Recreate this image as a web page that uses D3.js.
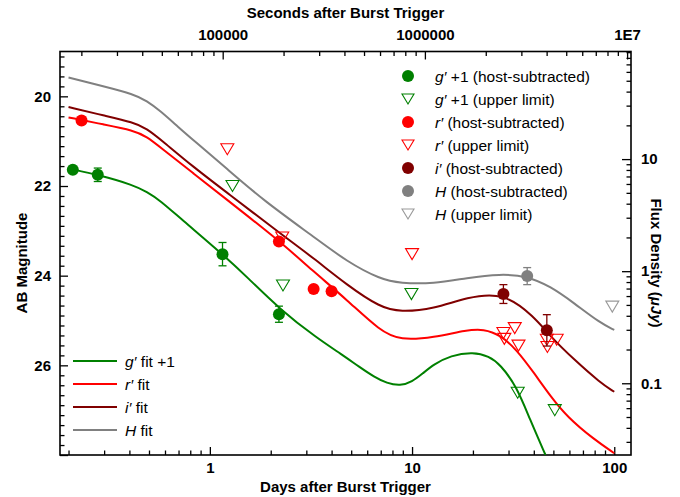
<!DOCTYPE html>
<html><head><meta charset="utf-8">
<script src="https://cdn.jsdelivr.net/npm/d3@7"></script>
<style>
body{margin:0;background:#fff}
svg{display:block}
text{font-family:"Liberation Sans",Arial,Helvetica,sans-serif}
</style>
</head><body>
<svg id="c" width="680" height="497"></svg>
<script>
// ---------------- data ----------------
// detections (days, AB mag, error)
const gDetDays = [0.21, 0.279, 1.155, 2.196];
const gDetMag  = [21.64, 21.75, 23.52, 24.86];
const gDetErr  = [0.05, 0.15, 0.26, 0.18];
const rDetDays = [0.232, 2.195, 3.26, 4.0];
const rDetMag  = [20.54, 23.24, 24.30, 24.35];
const rDetErr  = [0.05, 0.08, 0.06, 0.06];
const iDetDays = [28.3, 46.4];
const iDetMag  = [24.41, 25.22];
const iDetErr  = [0.21, 0.35];
const hDetDays = [37.1];
const hDetMag  = [24.01];
const hDetErr  = [0.19];
// upper limits
const gLimDays = [1.294, 2.30, 9.93, 33.3, 50.8];
const gLimMag  = [22.0, 24.22, 24.41, 26.61, 27.0];
const rLimDays = [1.22, 2.28, 10.0, 28.3, 28.6, 32.2, 33.6, 46.4, 46.7, 51.9];
const rLimMag  = [21.18, 23.15, 23.52, 25.28, 25.41, 25.17, 25.56, 25.43, 25.59, 25.43];
const hLimDays = [97.8];
const hLimMag  = [24.69];
// fit curves
const gFitDays = [0.2, 0.287, 0.419, 0.488, 0.567, 0.714, 1.155, 1.52, 2.23, 3.38, 4.5, 5.5, 6.5, 7.5, 8.74, 10.0, 11.3, 12.8, 15.5, 20.1, 24, 27.3, 32.9, 38.3, 45.7];
const gFitMag  = [21.61, 21.76, 21.98, 22.13, 22.32, 22.72, 23.52, 24.02, 24.76, 25.39, 25.76, 26.04, 26.26, 26.40, 26.46, 26.37, 26.18, 25.98, 25.78, 25.70, 25.80, 25.98, 26.47, 27.21, 28.0];
const rFitDays = [0.2, 0.3, 0.419, 0.488, 0.567, 0.83, 1.21, 2.23, 3.26, 4.77, 6.97, 8.74, 12.8, 18.7, 22.6, 27.3, 32.9, 40.1, 48.4, 58.5, 79.3, 100];
const rFitMag  = [20.47, 20.63, 20.76, 20.90, 21.13, 21.72, 22.30, 23.24, 23.91, 24.54, 25.24, 25.44, 25.38, 25.21, 25.19, 25.32, 25.65, 26.17, 26.69, 27.15, 27.65, 27.96];
const iFitDays = [0.2, 0.3, 0.419, 0.488, 0.567, 0.83, 1.21, 2.23, 3.26, 4.77, 6.97, 8.74, 12.8, 18.7, 28.3, 40.1, 48.4, 63.2, 85.4, 100];
const iFitMag  = [20.24, 20.43, 20.58, 20.72, 20.95, 21.58, 22.14, 23.06, 23.61, 24.21, 24.71, 24.81, 24.74, 24.48, 24.37, 24.91, 25.36, 25.87, 26.39, 26.59];
const hFitDays = [0.2, 0.3, 0.419, 0.488, 0.567, 0.7, 0.83, 1.21, 1.84, 3.26, 4.77, 6.97, 8.74, 12.8, 18.7, 27.3, 37.1, 48.4, 63.2, 85.4, 100];
const hFitMag  = [19.58, 19.78, 19.95, 20.10, 20.32, 20.69, 20.98, 21.61, 22.32, 23.13, 23.69, 24.08, 24.17, 24.18, 24.05, 23.96, 24.01, 24.24, 24.61, 25.06, 25.21];
// axes
const daysDomain = [0.1815, 121];
const magDomain = [19, 28];
const daysMajor = [1, 10, 100];
const daysMinorMult = [2, 3, 4, 5, 6, 7, 8, 9];
const secMajor = [1e5, 1e6, 1e7];
const secLabels = ["100000", "1000000", "1E7"];
const fluxMajor = [0.1, 1, 10];
const fluxLabels = ["0.1", "1", "10"];
const magMajor = [20, 22, 24, 26, 28];
const magLabels = ["20", "22", "24", "26", ""];
const legendTop = [
  {band: "g\u2032", rest: " +1 (host-subtracted)", color: "#008000", type: "circle"},
  {band: "g\u2032", rest: " +1 (upper limit)", color: "#008000", type: "tri"},
  {band: "r\u2032", rest: " (host-subtracted)", color: "#ff0000", type: "circle"},
  {band: "r\u2032", rest: " (upper limit)", color: "#ff0000", type: "tri"},
  {band: "i\u2032", rest: " (host-subtracted)", color: "#800000", type: "circle"},
  {band: "H", rest: " (host-subtracted)", color: "#808080", type: "circle"},
  {band: "H", rest: " (upper limit)", color: "#999999", type: "tri"}
];
const legendFit = [
  {band: "g\u2032", rest: " fit +1", color: "#008000"},
  {band: "r\u2032", rest: " fit", color: "#ff0000"},
  {band: "i\u2032", rest: " fit", color: "#800000"},
  {band: "H", rest: " fit", color: "#808080"}
];

// ---------------- layout ----------------
const L = 60, R = 631, T = 51.5, B = 455;
const svg = d3.select("#c");
const x = d3.scaleLog().domain(daysDomain).range([L, R]);
const xs = d3.scaleLog().domain(daysDomain.map(d => d * 86400)).range([L, R]);
const y = d3.scaleLinear().domain(magDomain).range([T, B]);
const fl = m => Math.pow(10, (23.9 - m) / 2.5);
const yf = d3.scaleLog().domain(magDomain.map(fl)).range([T, B]);

function minorsLog(domain, mult) {
  const out = [];
  for (let e = -3; e <= 9; e++) {
    const dec = Math.pow(10, e);
    mult.forEach(k => {
      const v = dec * k;
      if (v >= domain[0] && v <= domain[1]) out.push(v);
    });
  }
  return out;
}
const FONT = "15px";

svg.append("defs").append("clipPath").attr("id", "clip")
  .append("rect").attr("x", L).attr("y", T).attr("width", R - L).attr("height", B - T);

// ---------------- axes ----------------
function styleAxis(g) {
  g.select(".domain").remove();
  g.selectAll(".tick line").attr("stroke", "#000").attr("stroke-width", 1.3);
  g.selectAll("text").attr("font-size", FONT).attr("font-weight", "bold").attr("fill", "#000")
    .attr("font-family", "'Liberation Sans', Arial, sans-serif");
}
// bottom
svg.append("g").attr("transform", `translate(0,${B})`)
  .call(d3.axisBottom(x).tickValues(daysMajor).tickSize(-8).tickPadding(7).tickFormat(d3.format("d")))
  .call(styleAxis);
svg.append("g").attr("transform", `translate(0,${B})`)
  .call(d3.axisBottom(x).tickValues(minorsLog(x.domain(), daysMinorMult)).tickSize(-4.5).tickFormat(""))
  .call(styleAxis);
// top
svg.append("g").attr("transform", `translate(0,${T})`)
  .call(d3.axisTop(xs).tickValues(secMajor).tickSize(-8).tickPadding(12).tickFormat((d, i) => secLabels[i]))
  .call(styleAxis);
svg.append("g").attr("transform", `translate(0,${T})`)
  .call(d3.axisTop(xs).tickValues(minorsLog(xs.domain(), daysMinorMult)).tickSize(-4.5).tickFormat(""))
  .call(styleAxis);
// left
const magMinor = d3.range(0, 46).map(i => 18 + i * 2 / 9).filter(v => v > magDomain[0] + 0.01 && v < magDomain[1] - 0.01 && Math.abs(v / 2 - Math.round(v / 2)) > 0.01);
svg.append("g").attr("transform", `translate(${L},0)`)
  .call(d3.axisLeft(y).tickValues(magMajor).tickSize(-8).tickPadding(9).tickFormat((d, i) => magLabels[i]))
  .call(styleAxis);
svg.append("g").attr("transform", `translate(${L},0)`)
  .call(d3.axisLeft(y).tickValues(magMinor).tickSize(-4.5).tickFormat(""))
  .call(styleAxis);
// right
svg.append("g").attr("transform", `translate(${R},0)`)
  .call(d3.axisRight(yf).tickValues(fluxMajor).tickSize(-9).tickPadding(10).tickFormat((d, i) => fluxLabels[i]))
  .call(styleAxis);
svg.append("g").attr("transform", `translate(${R},0)`)
  .call(d3.axisRight(yf).tickValues(minorsLog(yf.domain().slice().reverse(), daysMinorMult)).tickSize(-4.5).tickFormat(""))
  .call(styleAxis);
// frame
svg.append("rect").attr("x", L).attr("y", T).attr("width", R - L).attr("height", B - T)
  .attr("fill", "none").attr("stroke", "#000").attr("stroke-width", 1.6);

// axis titles
const bold = sel => sel.attr("font-weight", "bold").attr("font-size", FONT).attr("fill", "#000");
svg.append("text").attr("x", (L + R) / 2).attr("y", 492).attr("text-anchor", "middle").call(bold).text("Days after Burst Trigger");
svg.append("text").attr("x", (L + R) / 2).attr("y", 18).attr("text-anchor", "middle").call(bold).text("Seconds after Burst Trigger");
svg.append("text").attr("transform", "translate(27,263) rotate(-90)").attr("text-anchor", "middle").call(bold).text("AB Magnitude");
const ft = svg.append("text").attr("transform", "translate(651,263) rotate(90)").attr("text-anchor", "middle").call(bold);
ft.append("tspan").text("Flux Density (");
ft.append("tspan").attr("font-style", "italic").text("\u03bcJy");
ft.append("tspan").text(")");

// ---------------- fits ----------------
const line = d3.line().x(d => x(d[0])).y(d => y(d[1])).curve(d3.curveBasis);
const fits = [
  [hFitDays, hFitMag, "#808080"],
  [iFitDays, iFitMag, "#800000"],
  [rFitDays, rFitMag, "#ff0000"],
  [gFitDays, gFitMag, "#008000"]
];
const gf = svg.append("g").attr("clip-path", "url(#clip)");
fits.forEach(([dd, mm, c]) => {
  gf.append("path").datum(dd.map((d, i) => [d, mm[i]]))
    .attr("d", line).attr("fill", "none").attr("stroke", c).attr("stroke-width", 2);
});

// ---------------- markers ----------------
const TW = 13, TH = 11;
function tri(cx, cy, w, h) {
  return `M${cx - w / 2},${cy - h / 2}L${cx + w / 2},${cy - h / 2}L${cx},${cy + h / 2}Z`;
}
const gm = svg.append("g");
function dets(days, mags, errs, c) {
  days.forEach((d, i) => {
    const cx = x(d), y1 = y(mags[i] - errs[i]), y2 = y(mags[i] + errs[i]);
    gm.append("line").attr("x1", cx).attr("x2", cx).attr("y1", y1).attr("y2", y2).attr("stroke", c).attr("stroke-width", 1.3);
    [y1, y2].forEach(yy => gm.append("line").attr("x1", cx - 4).attr("x2", cx + 4).attr("y1", yy).attr("y2", yy).attr("stroke", c).attr("stroke-width", 1.3));
    gm.append("circle").attr("cx", cx).attr("cy", y(mags[i])).attr("r", 6).attr("fill", c);
  });
}
function lims(days, mags, c) {
  days.forEach((d, i) => {
    gm.append("path").attr("d", tri(x(d), y(mags[i]), TW, TH)).attr("fill", "none").attr("stroke", c).attr("stroke-width", 1.1);
  });
}
dets(gDetDays, gDetMag, gDetErr, "#008000");
lims(gLimDays, gLimMag, "#008000");
dets(rDetDays, rDetMag, rDetErr, "#ff0000");
lims(rLimDays, rLimMag, "#ff0000");
dets(iDetDays, iDetMag, iDetErr, "#800000");
dets(hDetDays, hDetMag, hDetErr, "#808080");
lims(hLimDays, hLimMag, "#999999");

// ---------------- legends ----------------
const lg = svg.append("g");
legendTop.forEach((e, i) => {
  const cy = 76 + i * 23;
  if (e.type === "circle") lg.append("circle").attr("cx", 408).attr("cy", cy).attr("r", 6).attr("fill", e.color);
  else lg.append("path").attr("d", tri(408, cy, 12, 10)).attr("fill", "none").attr("stroke", e.color).attr("stroke-width", 1.1);
  const t = lg.append("text").attr("x", 435).attr("y", cy + 5.5).attr("font-size", "15.5px").attr("fill", "#000");
  t.append("tspan").attr("font-style", "italic").text(e.band);
  t.append("tspan").text(e.rest);
});
legendFit.forEach((e, i) => {
  const cy = 361 + i * 23;
  lg.append("line").attr("x1", 73).attr("x2", 117).attr("y1", cy).attr("y2", cy).attr("stroke", e.color).attr("stroke-width", 2);
  const t = lg.append("text").attr("x", 125).attr("y", cy + 5.5).attr("font-size", "15.5px").attr("fill", "#000");
  t.append("tspan").attr("font-style", "italic").text(e.band);
  t.append("tspan").text(e.rest);
});
</script>
</body></html>
